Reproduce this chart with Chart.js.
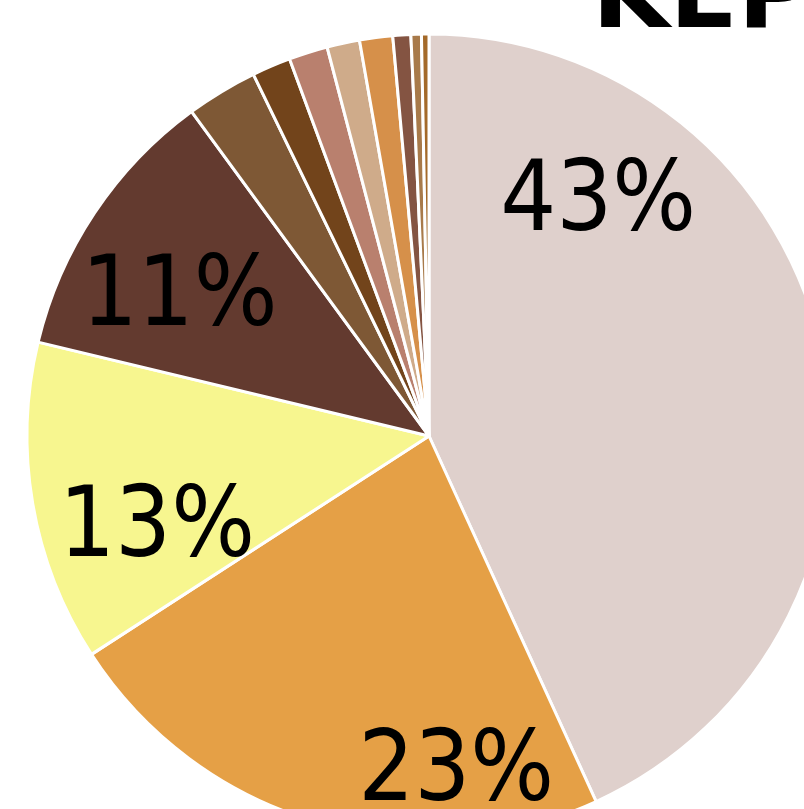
<!DOCTYPE html>
<html>
<head>
<meta charset="utf-8">
<script src="https://cdn.jsdelivr.net/npm/chart.js@4/dist/chart.umd.min.js"></script>
<style>
  html, body { margin: 0; padding: 0; background: #fff; overflow: hidden; }
  #wrap { position: relative; width: 804px; height: 809px; }
</style>
</head>
<body>
<div id="wrap"><canvas id="pie" width="804" height="809"></canvas></div>
<script>
// slice values (percent), clockwise from 12 o'clock
const shares = [43.2, 22.7, 12.9, 11.2, 2.86, 1.56, 1.56, 1.31, 1.33, 0.72, 0.42, 0.3];
const sliceColors = ['#dfd0cc', '#e5a046', '#f7f68f', '#633a2f', '#7e5835', '#72441b',
                     '#b9806e', '#cfab8a', '#d6904a', '#845442', '#a87a4a', '#a46a2a'];
// where the % labels sit inside their slice (fraction of the sweep, fraction of radius)
const labelSweep = [0.225, 0.243, 0.34, 0.42];
const labelRadius = [0.734, 0.819, 0.708, 0.72];
const titleText = 'KEP';

const pctLabels = {
  id: 'pctLabels',
  afterDatasetsDraw(chart) {
    const { ctx } = chart;
    const arcs = chart.getDatasetMeta(0).data;
    const total = shares.reduce((a, b) => a + b, 0);
    const size = 98;
    ctx.save();
    ctx.font = `${size}px "DejaVu Sans Condensed", "DejaVu Sans", sans-serif`;
    ctx.fillStyle = '#000';
    ctx.textAlign = 'center';
    ctx.textBaseline = 'alphabetic';
    labelSweep.forEach((f, i) => {
      const a = arcs[i];
      const ang = a.startAngle + f * (a.endAngle - a.startAngle);
      const r = labelRadius[i] * a.outerRadius;
      const x = a.x + r * Math.cos(ang);
      const y = a.y + r * Math.sin(ang);
      ctx.fillText(Math.round(shares[i] / total * 100) + '%', x, y + size * 0.365);
    });
    // chart title, cut off at the top right
    ctx.font = 'bold 100px "DejaVu Sans", sans-serif';
    ctx.textAlign = 'left';
    ctx.fillText(titleText, 592, 27);
    ctx.restore();
  }
};

new Chart(document.getElementById('pie'), {
  type: 'pie',
  data: {
    labels: shares.map((_, i) => 'S' + (i + 1)),
    datasets: [{
      data: shares,
      backgroundColor: sliceColors,
      borderColor: '#ffffff',
      borderWidth: 3,
    }],
  },
  options: {
    responsive: false,
    animation: false,
    radius: 402,
    layout: { padding: { left: 54, right: 0, top: 63, bottom: 0 } },
    plugins: { legend: { display: false }, tooltip: { enabled: false }, title: { display: false } },
  },
  plugins: [pctLabels],
});
</script>
</body>
</html>
